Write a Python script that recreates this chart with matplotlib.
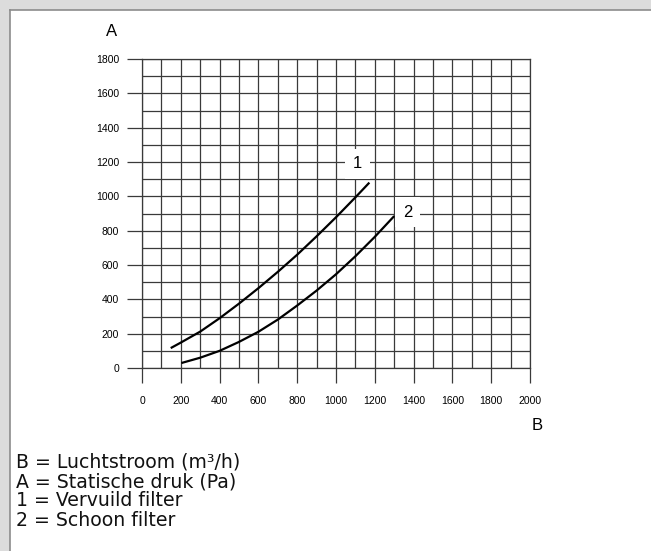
import numpy as np
import matplotlib.pyplot as plt
from matplotlib.patches import Rectangle
from matplotlib.lines import Line2D

# curve 1 = vervuild filter, curve 2 = schoon filter
flow_1 = [148, 200, 300, 400, 500, 600, 700, 800, 900, 1000, 1100, 1172]
druk_1 = [116, 148, 212, 290, 375, 465, 560, 660, 767, 878, 994, 1080]
flow_2 = [203, 300, 400, 500, 600, 700, 800, 900, 1000, 1100, 1200, 1300]
druk_2 = [29, 60, 100, 152, 211, 282, 364, 451, 546, 651, 764, 885]

x_ticks = list(range(0, 2001, 200))
y_ticks = list(range(0, 1801, 200))
legend_lines = ["B = Luchtstroom (m\u00b3/h)", "A = Statische druk (Pa)",
                "1 = Vervuild filter", "2 = Schoon filter"]

fig = plt.figure(figsize=(6.51, 5.51), dpi=100)
fig.patch.set_facecolor('#dcdcdc')
W, H = 651, 551
# white panel with a grey border at left and top
fig.patches.append(Rectangle((10 / W, 0), 1, 1 - 10 / H, transform=fig.transFigure,
                             facecolor='white', edgecolor='none', zorder=-5))
fig.lines.append(Line2D([10 / W, 10 / W], [0, 1 - 10 / H], transform=fig.transFigure,
                        color='#8c8c8c', lw=1.2))
fig.lines.append(Line2D([10 / W, 1], [1 - 10 / H, 1 - 10 / H], transform=fig.transFigure,
                        color='#8c8c8c', lw=1.2))

ax = fig.add_axes([142 / W, 183 / H, 388 / W, 309 / H])
ax.set_zorder(2)
ax.set_facecolor('white')
ax.set_xlim(0, 2000)
ax.set_ylim(0, 1800)
ax.set_xticks(x_ticks)
ax.set_yticks(y_ticks)
ax.set_xticks(range(0, 2001, 100), minor=True)
ax.set_yticks(range(0, 1801, 100), minor=True)
ax.grid(True, which='both', color='#3a3a3a', lw=0.9)
ax.set_axisbelow(True)
for s in ax.spines.values():
    s.set_color('#3a3a3a')
    s.set_linewidth(0.9)
ax.tick_params(which='major', direction='out', length=10.5, width=0.9, color='#3a3a3a',
               labelsize=7.5, pad=10)
ax.tick_params(which='minor', length=0)
for lab in ax.get_xticklabels() + ax.get_yticklabels():
    lab.set_fontfamily('Liberation Sans')
ax.tick_params(axis='y', pad=6)

ax.plot(flow_1, druk_1, color='black', lw=1.6, solid_capstyle='butt', zorder=3)
ax.plot(flow_2, druk_2, color='black', lw=1.6, solid_capstyle='butt', zorder=3)

box = dict(facecolor='white', edgecolor='none', pad=5.5)
ax.text(1110, 1190, "1", fontsize=12, family='Liberation Sans', ha='center', va='center',
        bbox=box, zorder=4)
ax.text(1370, 908, "2", fontsize=12, family='Liberation Sans', ha='center', va='center',
        bbox=box, zorder=4)

fig.text(112 / W, 1 - 32 / H, "A", fontsize=12, family='Liberation Sans', ha='center', va='center')
fig.text(537 / W, 1 - 425 / H, "B", fontsize=12, family='Liberation Sans', ha='center', va='center')

for i, t in enumerate(legend_lines):
    fig.text(16 / W, 1 - (462 + 19.5 * i) / H, t, fontsize=13.6, family='DejaVu Sans',
             ha='left', va='center', color='#111111')

fig.savefig('out.png', dpi=100, facecolor=fig.get_facecolor())
